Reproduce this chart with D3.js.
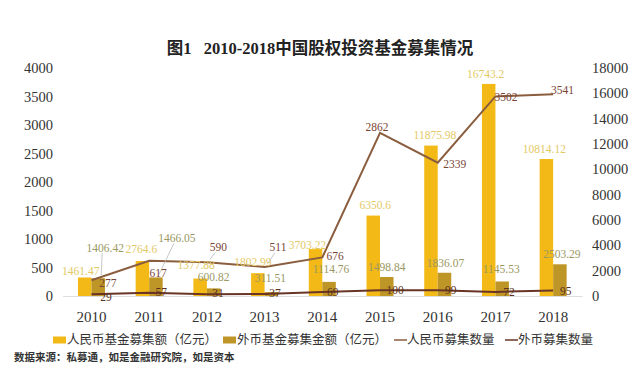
<!DOCTYPE html>
<html>
<head>
<meta charset="utf-8">
<script src="https://cdn.jsdelivr.net/npm/d3@7"></script>
<style>
  body { margin: 0; background: #fff; }
  text { font-family: "Liberation Serif", "DejaVu Serif", serif; }
  .cjk { font-family: "Noto Sans CJK SC", sans-serif; }
</style>
</head>
<body>
<svg id="chart" width="640" height="372"></svg>
<script>
// data
const years = ['2010', '2011', '2012', '2013', '2014', '2015', '2016', '2017', '2018'];
const rmbAmount = [1461.47, 2764.6, 1377.88, 1802.99, 3703.22, 6350.6, 11875.98, 16743.2, 10814.12];
const fxAmount = [1406.42, 1466.05, 600.82, 311.51, 1114.76, 1498.84, 1836.07, 1145.53, 2503.29];
const rmbCount = [277, 617, 590, 511, 676, 2862, 2339, 3502, 3541];
const fxCount = [29, 57, 31, 37, 69, 100, 99, 72, 95];
const leftTicks = [0, 500, 1000, 1500, 2000, 2500, 3000, 3500, 4000];
const rightTicks = [0, 2000, 4000, 6000, 8000, 10000, 12000, 14000, 16000, 18000];
const legendNames = ['人民币基金募集额（亿元）', '外币基金募集金额（亿元）', '人民币募集数量', '外币募集数量'];

// label nudges (dx, dy from anchor), as moved by hand in the original
const rmbAmountOff = [[-4, -6.5], [-1, -12], [-4, -13.5], [-5, -10.7], [-8, -4], [2, -10.6], [4, -10.6], [-3, -10.4], [-2, -10.5]];
const fxAmountOff = [[7, -30], [21, -39], [0, -11], [-1, -14.5], [2, -13], [0, -10.5], [1, -10.2], [-1, -12.5], [2, -10.8]];
const rmbCountOff = [[16.5, 3], [9, 12], [11.6, -15], [13.4, -19.4], [12.7, -1.5], [-3, -6], [17, 1.5], [10.6, 1], [9.4, -4]];
const fxCountOff = [[14.5, 3], [12, -1], [11, -1], [10.5, -1], [10.5, 0], [15, 0], [13, 0], [13.5, 0], [12.5, 0]];
const leaders = { fx: [0, 1], rmb: [2, 3] };

const colors = {
  rmbBar: '#F3BA17',
  fxBar: '#BE9628',
  rmbLine: '#8A5D3E',
  fxLine: '#6A3526',
  rmbAmountText: '#E3C965',
  fxAmountText: '#9A9862',
  rmbCountText: '#7A4535',
  fxCountText: '#5A3020'
};

const svg = d3.select('#chart');
const margin = { top: 68, bottom: 296, left: 62.6, right: 582 };

const x = d3.scaleBand()
  .domain(years)
  .range([margin.left, margin.right]);

const yLeft = d3.scaleLinear()
  .domain([0, 4000])
  .range([margin.bottom, margin.top]);

const yRight = d3.scaleLinear()
  .domain([0, 18000])
  .range([margin.bottom, margin.top]);

const barW = 13.5;
const cx = d => x(d) + x.bandwidth() / 2;

// title
const title = svg.append('text')
  .attr('x', 320)
  .attr('y', 54)
  .attr('text-anchor', 'middle')
  .attr('font-size', 16.5)
  .attr('font-weight', 'bold')
  .attr('fill', '#222');
title.append('tspan').attr('class', 'cjk').text('图');
title.append('tspan').text('1\u00a0\u00a0\u00a02010-2018');
title.append('tspan').attr('class', 'cjk').text('中国股权投资基金募集情况');

// axes
const styleTicks = size => g => g.selectAll('text')
  .attr('font-size', size)
  .attr('fill', '#333')
  .attr('font-family', '"Liberation Serif", serif');

svg.append('g')
  .attr('transform', `translate(53,0)`)
  .call(d3.axisLeft(yLeft).tickValues(leftTicks).tickFormat(d3.format('d')).tickSize(0).tickPadding(0))
  .call(g => g.select('.domain').remove())
  .call(styleTicks(14.5));

svg.append('g')
  .attr('transform', `translate(592,0)`)
  .call(d3.axisRight(yRight).tickValues(rightTicks).tickFormat(d3.format('d')).tickSize(0).tickPadding(0))
  .call(g => g.select('.domain').remove())
  .call(styleTicks(14.5));

svg.append('g')
  .attr('transform', `translate(0,${margin.bottom})`)
  .call(d3.axisBottom(x).tickSize(0).tickPadding(15))
  .call(g => g.select('.domain').attr('stroke', '#ddd'))
  .call(styleTicks(15));

// bars
const gBars = svg.append('g');
gBars.selectAll('rect.rmb')
  .data(years)
  .join('rect')
  .attr('class', 'rmb')
  .attr('x', d => cx(d) - barW)
  .attr('width', barW)
  .attr('y', (d, i) => yRight(rmbAmount[i]))
  .attr('height', (d, i) => yRight(0) - yRight(rmbAmount[i]))
  .attr('fill', colors.rmbBar);

gBars.selectAll('rect.fx')
  .data(years)
  .join('rect')
  .attr('class', 'fx')
  .attr('x', d => cx(d))
  .attr('width', barW)
  .attr('y', (d, i) => yRight(fxAmount[i]))
  .attr('height', (d, i) => yRight(0) - yRight(fxAmount[i]))
  .attr('fill', colors.fxBar);

// lines
const lineLeft = vals => d3.line()
  .x((d, i) => cx(years[i]))
  .y(d => yLeft(d))(vals);

svg.append('path')
  .attr('d', lineLeft(rmbCount))
  .attr('fill', 'none')
  .attr('stroke', colors.rmbLine)
  .attr('stroke-width', 2);

svg.append('path')
  .attr('d', lineLeft(fxCount))
  .attr('fill', 'none')
  .attr('stroke', colors.fxLine)
  .attr('stroke-width', 2);

// data labels
const gLabels = svg.append('g')
  .attr('font-size', 11.5)
  .attr('text-anchor', 'middle');

function addLabels(values, ax, ay, offs, color, leaderIdx) {
  values.forEach((v, i) => {
    const px = ax(i), py = ay(v);
    const lx = px + offs[i][0], ly = py + offs[i][1];
    if (leaderIdx && leaderIdx.includes(i)) {
      gLabels.append('line')
        .attr('x1', lx - 3).attr('y1', ly + 5)
        .attr('x2', px + (lx > px ? 3 : 0)).attr('y2', py - 3)
        .attr('stroke', '#b8b8b8')
        .attr('stroke-width', 0.8);
    }
    gLabels.append('text')
      .attr('x', lx)
      .attr('y', ly)
      .attr('dy', '0.35em')
      .attr('fill', color)
      .text(v);
  });
}

addLabels(rmbAmount, i => cx(years[i]) - barW / 2, yRight, rmbAmountOff, colors.rmbAmountText);
addLabels(fxAmount, i => cx(years[i]) + barW / 2, yRight, fxAmountOff, colors.fxAmountText, leaders.fx);
addLabels(rmbCount, i => cx(years[i]), yLeft, rmbCountOff, colors.rmbCountText, leaders.rmb);
addLabels(fxCount, i => cx(years[i]), yLeft, fxCountOff, colors.fxCountText);

// legend
const legend = svg.append('g')
  .attr('font-size', 12.5)
  .attr('fill', '#333');
const legendX = [53, 223, 393, 504];
const legendKinds = ['rmbBar', 'fxBar', 'rmbLine', 'fxLine'];
legendNames.forEach((name, i) => {
  const g = legend.append('g').attr('transform', `translate(${legendX[i]},340)`);
  if (i < 2) {
    g.append('rect')
      .attr('x', 0).attr('y', -3.5)
      .attr('width', 13).attr('height', 7)
      .attr('fill', colors[legendKinds[i]]);
  } else {
    g.append('line')
      .attr('x1', 1).attr('x2', 14)
      .attr('y1', 0).attr('y2', 0)
      .attr('stroke', colors[legendKinds[i]])
      .attr('stroke-width', 1.5);
  }
  g.append('text')
    .attr('class', 'cjk')
    .attr('x', 14)
    .attr('dy', '0.35em')
    .text(name);
});

// source
svg.append('text')
  .attr('class', 'cjk')
  .attr('x', 14)
  .attr('y', 357)
  .attr('dy', '0.35em')
  .attr('font-size', 10.5)
  .attr('font-weight', 'bold')
  .attr('fill', '#333')
  .text('数据来源：私募通，如是金融研究院，如是资本');
</script>
</body>
</html>
